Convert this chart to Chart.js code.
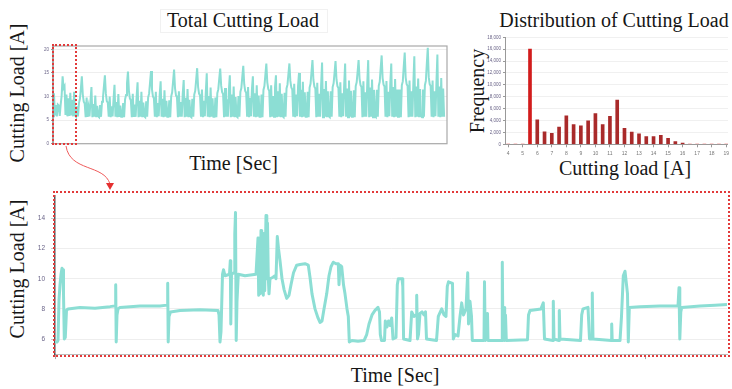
<!DOCTYPE html>
<html><head><meta charset="utf-8">
<script src="https://cdn.jsdelivr.net/npm/chart.js@4.4.1/dist/chart.umd.min.js"></script>
<style>
html,body{margin:0;padding:0;background:#fff;}
body{width:732px;height:389px;position:relative;overflow:hidden;font-family:"Liberation Serif","Times New Roman",serif;color:#161616;}
canvas{position:absolute;}
.t{position:absolute;white-space:nowrap;line-height:1;transform:translate(-50%,-50%);}
.r{transform:translate(-50%,-50%) rotate(-90deg);}
.box{position:absolute;box-sizing:border-box;border:2px dotted #e23a3a;z-index:4;}
</style></head>
<body>
<div style="position:absolute;left:160px;top:9px;width:168px;height:24px;border:1px solid #f1f1f1;box-sizing:border-box;"></div>
<div class="t" style="left:243px;top:20px;font-size:20px;">Total Cutting Load</div>
<div class="t" style="left:614px;top:20px;font-size:20px;">Distribution of Cutting Load</div>
<div class="t r" style="left:16.5px;top:93px;font-size:20px;">Cutting Load [A]</div>
<div class="t" style="left:233.5px;top:163px;font-size:20px;">Time [Sec]</div>
<div class="t r" style="left:477px;top:91px;font-size:20px;">Frequency</div>
<div class="t" style="left:625px;top:168px;font-size:20px;">Cutting load [A]</div>
<div class="t r" style="left:16.5px;top:269px;font-size:20px;">Cutting Load [A]</div>
<div class="t" style="left:395px;top:375px;font-size:20px;">Time [Sec]</div>

<canvas id="cTotal" width="422" height="110" style="left:30px;top:40px;"></canvas>
<canvas id="cHist" width="248" height="130" style="left:484px;top:30px;"></canvas>
<canvas id="cZoom" width="732" height="178" style="left:0px;top:186px;"></canvas>

<div class="box" style="left:52px;top:44px;width:25px;height:101px;"></div>
<div class="box" style="left:52.5px;top:190.5px;width:677px;height:166.5px;"></div>
<svg width="732" height="389" style="position:absolute;left:0;top:0;z-index:5;pointer-events:none;">
  <path d="M66,146 C70,172 104,164 110,184" fill="none" stroke="#ee5a5a" stroke-width="1"/>
  <polygon points="106,183 114,183 110,190" fill="#e53030"/>
</svg>

<script>
// ---------- Total cutting load (top left) ----------
const totalLoadPart1 = [
  5.8,10.7,6.0,8.2,5.8,8.3,8.1,5.9,8.3,10.2,14.3,11.8,12.2,6.1,10.4,5.8,9.6,5.9,10.8,6.0,9.3,5.8,11.0,6.0,
  5.7,7.9,5.8,8.6,9.5,11.6,14.3,10.4,8.9,8.5,5.6,9.8,5.7,7.6,5.8,9.1,12.0,5.6,8.4,5.7,10.2,5.6,8.0,5.8,
  5.6,8.2,5.7,8.9,9.8,12.2,14.5,10.6,9.0,8.7,5.7,10.0,5.6,7.9,5.8,9.4,12.5,5.7,8.8,5.6,10.5,5.7,8.1,5.7,
  5.7,8.6,5.6,9.4,10.3,12.8,15.3,11.2,9.6,9.2,5.6,10.6,5.7,8.3,5.7,9.9,13.0,5.6,9.1,5.7,11.0,5.6,8.7,5.8,
  5.6,9.0,5.7,9.8,10.6,13.0,15.4,11.5,10.0,9.6,5.7,11.0,5.6,8.6,5.8,10.3,13.2,5.7,9.5,5.6,11.3,5.7,9.1,5.7,
  5.7,9.2,5.6,10.0,10.9,13.3,15.7,11.7,10.2,9.8,5.6,11.1,5.7,8.8,5.7,10.5,13.5,5.6,9.7,5.7,11.6,5.6,9.3,5.8
];
const totalLoadPart2 = [
  5.6,9.5,5.7,10.4,11.2,13.6,16.0,12.0,10.6,10.2,5.7,11.5,5.6,9.1,5.8,10.9,14.9,5.7,10.1,5.6,11.9,5.7,9.6,5.7,
  5.7,9.8,5.6,10.7,11.5,13.8,15.9,12.3,10.9,10.5,5.6,11.8,5.7,9.4,5.7,11.2,14.5,5.6,10.4,5.7,12.1,5.6,9.9,5.8,
  5.6,10.1,5.7,11.0,11.8,14.2,16.5,12.6,11.2,10.8,5.7,12.0,5.6,9.7,5.8,11.5,14.3,5.7,10.7,5.6,12.4,5.7,10.2,5.7,
  5.7,10.4,5.6,11.4,12.2,14.6,17.0,13.0,11.6,11.2,5.6,12.4,5.7,10.1,5.7,11.9,14.5,5.6,11.1,5.7,12.8,5.6,10.6,5.8,
  5.6,10.8,5.7,11.7,12.5,14.8,17.0,13.3,11.9,11.5,5.7,12.7,5.6,10.4,5.8,12.2,15.0,5.7,11.4,5.6,13.1,5.7,10.9,5.7,
  5.7,11.0,5.6,11.9,12.7,15.2,17.7,13.5,12.1,11.7,5.6,12.9,5.7,10.6,5.7,12.4,17.2,5.6,11.6,5.7,13.3,5.6,11.1,5.8
];
const totalLoadPart3 = [
  5.6,11.1,5.7,12.0,12.8,15.0,17.5,13.6,12.2,11.8,5.7,13.0,5.6,10.7,5.8,12.5,17.0,5.7,11.7,5.6,13.4,5.7,11.2,5.7,
  5.7,11.3,5.6,12.2,13.0,15.3,17.7,13.8,12.4,12.0,5.6,13.2,5.7,10.9,5.7,12.7,17.7,5.6,11.9,5.7,13.6,5.6,11.4,5.8,
  5.6,11.4,5.7,12.3,13.1,16.0,18.7,13.9,12.5,12.1,5.7,13.3,5.6,11.0,5.8,12.8,17.0,5.7,12.0,5.6,13.7,5.7,11.5,5.7,
  5.7,11.5,5.6,12.4,13.2,16.4,19.3,14.0,12.6,12.2,5.6,13.4,5.7,11.1,5.7,12.9,18.5,5.6,12.1,5.7,13.8,5.6,11.6,5.8,
  5.6,11.5,5.7,12.4,13.3,17.0,20.3,14.1,12.6,12.2,5.7,13.4,5.6,11.1,5.8,12.9,18.9,5.7,12.1,5.6,13.9,5.7,11.7,5.7
];
const totalTicks = [0, 5, 10, 15, 20];

// ---------- Zoomed segment (bottom): [time, load] ----------
const zoomSegA = [
  [0,5.8],[2,5.8],[3,5.9],[4,8.6],[5,9.6],[6,10.3],[7,10.7],[8,10.6],[8.5,9.0],[9.3,6.0],[10.3,6.1],[11.5,7.9],
  [13,8.0],[25,8.1],[40,8.05],[55,8.15],[60,8.2],[60.7,9.6],[61.2,5.8],[62,7.6],[63,8.0],[65,8.1],[85,8.2],
  [105,8.2],[112,8.25],[112.7,9.7],[113.2,5.8],[114,7.5],[115.5,7.8],[125,7.9],[145,7.95],[163,7.9],[164,7.6],
  [165,5.8],[166,6.5]
];
const zoomSegB = [
  [167.5,10.3],[168.5,10.6],[170,10.2],[174.5,10.3],[175.3,11.2],[175.8,7.0],[176.5,10.3],[179,10.4],[179.8,13.0],
  [180.5,14.4],[181.2,5.9],[182,8.5],[183.3,10.3],[190,10.2],[201,10.3],[202,11.5],[203,12.7],[203.7,8.9],[204.5,12.3],
  [205.3,9.0],[206,13.2],[206.7,11.0],[207.5,12.5],[208.3,8.9],[209,13.0],[209.7,9.2],[211,14.2],[211.8,10.0],[212.5,13.7],
  [213.3,10.1],[214,9.0],[215,10.0],[218,10.1],[220,10.2],[221,10.0],[222.3,12.8],[223.5,12.0],[225,11.2],[227,10.0],
  [229,9.3],[231.7,8.7],[234,8.9],[236,9.6],[238.5,10.4],[241.7,10.9],[245,10.95],[250,11.0],[253.3,10.9],[255,10.1],
  [257,9.0],[260,8.0],[263,7.4],[265,7.1],[267,7.2],[269,8.0],[271.7,9.0],[274,10.2],[276,10.8],[278.3,11.1],[281,11.0],
  [283.3,11.0],[284,9.6],[285,10.9],[286.7,10.8],[288.5,9.6],[290,9.0],[292,8.0],[293.3,7.5],[294.3,5.8]
];
const zoomSegC = [
  [297,5.9],[303,5.85],[309,5.9],[311.7,6.3],[314,7.0],[317,7.6],[320,7.9],[323,8.1],[324.5,7.8],[325.3,6.3],[326.5,5.9],
  [329.5,5.9],[330.3,7.2],[332,6.8],[333.5,7.2],[335,6.9],[336.7,7.4],[338,6.0],[341,6.1],[342.3,9.6],[343.3,10.0],[347,10.0],
  [347.8,9.5],[348.6,6.0],[355,5.9],[356.7,7.8],[359,7.5],[361,7.6],[361.7,8.9],[362.5,6.0],[363.5,6.3],[365,7.7],[367,7.8],
  [369,7.6],[370.5,7.8],[371.5,6.0],[381.5,5.9],[383.3,7.5],[386.7,8.0],[389,7.6],[391,7.5],[392.3,9.5],[393.5,9.8],[397.5,9.7],
  [398.3,6.0],[400,6.3],[403,6.2],[405,7.5],[406.7,8.4],[408.5,7.6],[411,8.0],[412.7,10.4],[413.5,7.0],[415,8.5],[416.5,7.5],
  [417.3,5.9],[429,5.9],[429.5,9.8],[430.2,5.9],[432.5,7.7],[433,5.9],[447,5.9],[447.3,11.1],[448,5.9],[449,8.1],[449.7,5.9],
  [450.5,7.6],[451.3,5.9],[472.5,5.95],[473.5,7.6],[475,7.9],[486,8.0],[488.3,8.4],[489.5,6.0],[498,5.9],[498.3,8.5],[499,6.0],
  [504,5.9],[504.3,7.9],[505,6.0],[525.5,5.9],[526.7,7.6],[528,8.0],[533,8.1],[534.5,6.0],[537,6.0],[537.3,9.05],[538,6.0],
  [556.3,5.9],[556.7,7.0],[557.2,5.9],[565,5.9],[566.5,7.5],[568.3,10.2],[570,10.5],[571.7,9.5],[572.5,9.0],[573.3,5.8],
  [574.3,8.1],[585,8.15],[605,8.2],[623,8.2],[624,9.4],[624.8,6.0],[625.8,7.8],[626.7,8.1],[645,8.2],[660,8.25],[672,8.3]
];
const zoomLoadTicks = [6, 8, 10, 12, 14];
const zoomTimeTicks = [0, 590];

// ---------- Distribution (top right) ----------
const histBins = [4,4.5,5,5.5,6,6.5,7,7.5,8,8.5,9,9.5,10,10.5,11,11.5,12,12.5,13,13.5,14,14.5,15,15.5,16,16.5,17,17.5,18,18.5,19];
const histFreq = [80,80,80,16000,4100,2100,1850,2900,4800,3300,3100,3950,5150,3300,4700,7450,2700,2050,1750,1300,1300,1500,1000,450,200,80,80,80,80,80,80];
const histXTicks = [4,5,6,7,8,9,10,11,12,13,14,15,16,17,18,19];
const histYTicks = [0,2000,4000,6000,8000,10000,12000,14000,16000,18000];

Chart.defaults.font.family = '"Liberation Sans", Arial, sans-serif';
Chart.defaults.animation = false;

const setTicks = list => scale => { scale.ticks = list.map(v => ({ value: v })); };
const setWidth = w => scale => { scale.width = w; };
const setHeight = h => scale => { scale.height = h; };

const framePlugin = {
  id: 'frame',
  afterDraw(chart, args, opts) {
    const { ctx, chartArea: a } = chart;
    ctx.save();
    ctx.strokeStyle = opts.color || '#aaa';
    ctx.lineWidth = opts.width || 1;
    ctx.strokeRect(a.left, a.top, a.right - a.left, a.bottom - a.top);
    if (opts.leftColor) {
      ctx.strokeStyle = opts.leftColor;
      ctx.beginPath(); ctx.moveTo(a.left, a.top); ctx.lineTo(a.left, a.bottom); ctx.stroke();
    }
    ctx.restore();
  }
};

const lineColor = 'rgb(140,222,212)';
const tickColor = '#6a6488';

// Top-left: total load
const totalLoad = totalLoadPart1.concat(totalLoadPart2, totalLoadPart3);
new Chart(document.getElementById('cTotal'), {
  type: 'line',
  data: { datasets: [{ data: totalLoad.map((v, i) => ({ x: i, y: v })), borderColor: lineColor, borderWidth: 2, pointRadius: 0, tension: 0 }] },
  options: {
    responsive: false, events: [],
    layout: { padding: { left: 0, right: 5, top: 6, bottom: 6.3 } },
    plugins: { legend: { display: false }, tooltip: { enabled: false }, frame: { color: '#a9a9a9', width: 1.2, leftColor: '#888' } },
    scales: {
      x: { type: 'linear', display: false, min: 0, max: totalLoad.length + 2 },
      y: {
        min: 0, max: 20.7, afterBuildTicks: setTicks(totalTicks), afterFit: setWidth(23),
        ticks: { font: { size: 4.5 }, color: tickColor, padding: 2 },
        grid: { color: '#eeeeee', tickLength: 2, tickColor: '#999' },
        border: { display: false }
      }
    }
  },
  plugins: [framePlugin]
});

// Top-right: histogram
new Chart(document.getElementById('cHist'), {
  type: 'bar',
  data: { datasets: [{
    data: histBins.map((b, i) => ({ x: b, y: histFreq[i] })),
    barThickness: 3,
    backgroundColor: c => {
      const v = c.raw ? c.raw.y : 0;
      if (v >= Math.max(...histFreq)) return '#d21c1c';
      if (v < 150) return '#f3a3a3';
      return '#a92a2a';
    }
  }] },
  options: {
    responsive: false, events: [],
    layout: { padding: { left: 0, right: 0, top: 7.3, bottom: 0 } },
    plugins: { legend: { display: false }, tooltip: { enabled: false } },
    scales: {
      x: {
        type: 'linear', min: 3.78, max: 19.12, offset: false,
        afterBuildTicks: setTicks(histXTicks), afterFit: setHeight(15.7),
        ticks: { font: { size: 5 }, color: '#777', padding: 3, maxRotation: 0, autoSkip: false },
        grid: { offset: false, drawOnChartArea: false, tickLength: 3, tickColor: '#999' },
        border: { color: '#999', width: 1 }
      },
      y: {
        min: 0, max: 18000, afterBuildTicks: setTicks(histYTicks), afterFit: setWidth(21),
        ticks: { font: { size: 4.5 }, color: tickColor, padding: 2, callback: v => v.toLocaleString('en-US') },
        grid: { color: '#f0f0f0', tickLength: 2, tickColor: '#999' },
        border: { color: '#999', width: 1 }
      }
    }
  }
});

// Bottom: zoomed segment
const zoomData = zoomSegA.concat(zoomSegB, zoomSegC).map(p => ({ x: p[0], y: p[1] }));
new Chart(document.getElementById('cZoom'), {
  type: 'line',
  data: { datasets: [{ data: zoomData, borderColor: lineColor, borderWidth: 3, pointRadius: 0, tension: 0, borderJoinStyle: 'round' }] },
  options: {
    responsive: false, events: [],
    layout: { padding: { left: 0, right: 5, top: 5.3, bottom: 0 } },
    plugins: { legend: { display: false }, tooltip: { enabled: false } },
    scales: {
      x: {
        type: 'linear', min: 0, max: 672, afterBuildTicks: setTicks(zoomTimeTicks), afterFit: setHeight(6.5),
        ticks: { display: false },
        grid: { drawOnChartArea: false, tickLength: 5, tickColor: '#aaa' },
        border: { color: '#bbb', width: 1 }
      },
      y: {
        min: 5, max: 15.5, afterBuildTicks: setTicks(zoomLoadTicks), afterFit: setWidth(55),
        ticks: { font: { size: 6.5 }, color: tickColor, padding: 6 },
        grid: { color: '#eeeeee', tickLength: 4, tickColor: '#ccc' },
        border: { color: '#555', width: 1.5 }
      }
    }
  }
});
</script>
</body></html>
